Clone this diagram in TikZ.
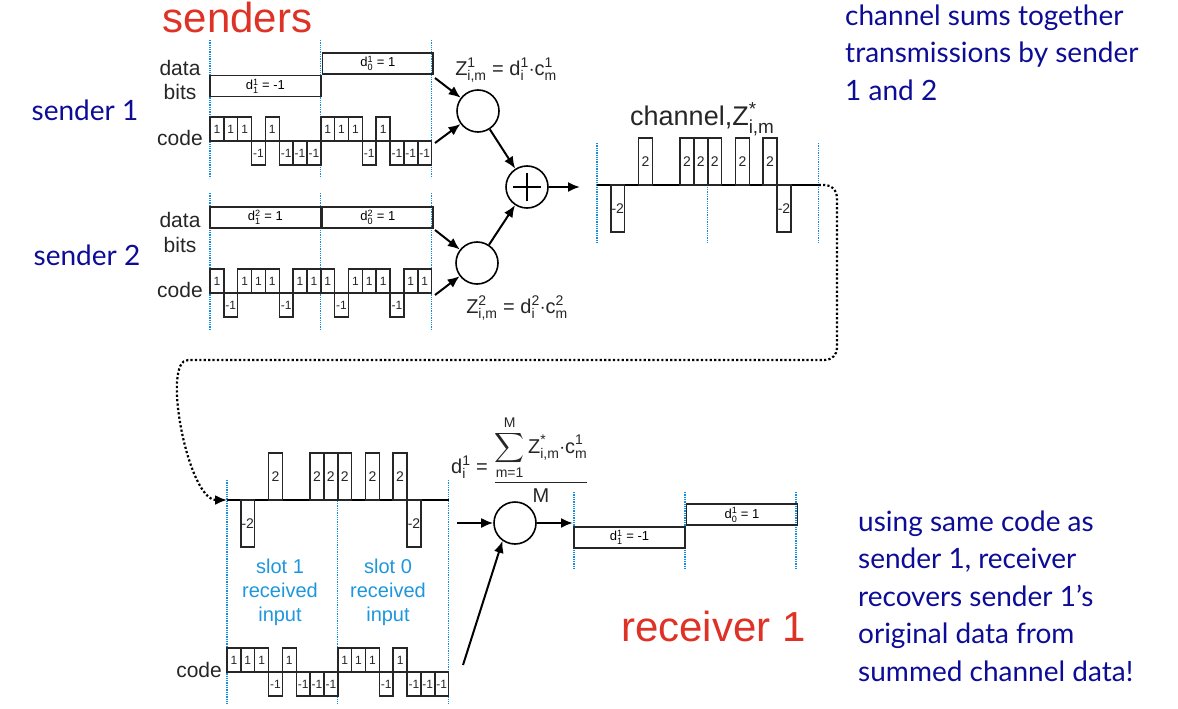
\documentclass[tikz,border=0pt]{standalone}
\usepackage{amsmath}
\usepackage{exscale}
\usepackage{fontspec}
\setmainfont{Liberation Sans}
\newfontfamily\notefont{Lato}
\usetikzlibrary{arrows.meta}
\usetikzlibrary{positioning}
\definecolor{titlered}{RGB}{222,50,38}
\definecolor{notenavy}{RGB}{12,12,150}
\definecolor{slotblue}{RGB}{30,150,220}
\definecolor{dotblue}{RGB}{20,140,225}
\tikzset{chip/.style = {draw=black!85, line width=1.5pt},
  chiplabel/.style = {inner sep=0, text=black!85},
  databox/.style = {draw=black!85, line width=1.7pt, minimum width=110.8pt, minimum height=21pt,
    inner sep=0, font=\fontsize{13}{13}\selectfont},
  slot/.style = {draw=dotblue, line width=1.3pt, densely dotted},
  rowname/.style = {inner sep=0, text=black!85, font=\fontsize{21}{21}\selectfont},
  mult/.style = {draw, circle, line width=1.6pt, minimum size=42pt, inner sep=0},
  arr/.style = {-{Latex[length=12pt,width=10pt]}, line width=2pt},
  link/.style = {line width=2.2pt, dash pattern=on 2.2pt off 2.2pt},
  redtitle/.style = {inner sep=0, text=titlered, font=\fontsize{42}{42}\selectfont},
  note/.style = {inner sep=0, text=notenavy, align=left, font=\notefont\fontsize{28}{37.5}\selectfont},
  slotnote/.style = {inner sep=0, text=slotblue, align=center, font=\fontsize{20}{24}\selectfont},
  formula/.style = {inner sep=0, text=black!85, font=\fontsize{20}{20}\selectfont}}
\newcommand{\chipw}{13.85}
% stacked super- and subscript
\newcommand{\ix}[2]{$^{\text{#1}}_{\text{#2}}$}
% chip waveform: name, x0, base, amplitude, font size, values
\newcommand{\wave}[6]{%
  \foreach \val [count=\cnt from 0] in {#6} {
    \ifnum\val=0\relax\else
      \draw[chip] ({#2+\cnt*\chipw},#3) rectangle ({#2+(\cnt+1)*\chipw},{#3-\val*#4});
      \node[chiplabel, font={\fontsize{#5}{#5}\selectfont}] (#1\cnt)
        at ({#2+(\cnt+0.5)*\chipw},{#3-\val*#4/2}) {\val};
    \fi
  }}

\begin{document}
\begin{tikzpicture}[x=1pt, y=-1pt]
  \useasboundingbox (0,0) rectangle (1178,709);
  % slot boundaries
  \foreach \x in {210, 320.8, 431.6} {
    \draw[slot] (\x,40) -- (\x,178);
    \draw[slot] (\x,193) -- (\x,330);
  }
  \foreach \x in {597, 707.8, 818.6} \draw[slot] (\x,143) -- (\x,243);
  \foreach \x in {227, 337.8, 448.6} \draw[slot] (\x,480) -- (\x,705);
  \foreach \x in {574, 685, 796} \draw[slot] (\x,492) -- (\x,570);

  % titles and notes
  \node[redtitle, anchor=base] (senders) at (237.5,33) {senders};
  \node[redtitle, anchor=base] (receiver) at (713.5,641) {receiver 1};
  \node[note, anchor=base] (snd1) at (85,120) {sender 1};
  \node[note, anchor=base] (snd2) at (87,265) {sender 2};
  \node[note, anchor=base west] (chnote) at (845,100)
    {channel sums together\\transmissions by sender\\1 and 2};
  \node[note, anchor=base west] (rxnote) at (858,681)
    {using same code as\\sender 1, receiver\\recovers sender 1’s\\original data from\\summed channel data!};

  % sender 1
  \node[rowname] (s1data) at (180,68) {data};
  \node[rowname] (s1bits) at (180,92) {bits};
  \node[rowname] (s1code) at (180,138) {code};
  \node[databox] (s1d1) at (265.4,86) {d\ix{1}{1} = -1};
  \node[databox, above right=0pt of s1d1.north east] (s1d0) {d\ix{1}{0} = 1};
  \wave{s1c}{210}{141}{24}{12}{1,1,1,-1,1,-1,-1,-1,1,1,1,-1,1,-1,-1,-1}

  % sender 2
  \node[rowname] (s2data) at (180,220) {data};
  \node[rowname] (s2bits) at (180,245) {bits};
  \node[rowname] (s2code) at (180,290) {code};
  \node[databox] (s2d1) at (265.4,217.5) {d\ix{2}{1} = 1};
  \node[databox, right=0pt of s2d1.east] (s2d0) {d\ix{2}{0} = 1};
  \wave{s2c}{210}{293}{24}{12}{1,-1,1,1,1,-1,1,1,1,-1,1,1,1,-1,1,1}

  % multiply and sum
  \node[mult] (m1) at (478,111) {};
  \node[mult] (m2) at (477,263) {};
  \node[mult] (plus) at (527,187) {};
  \draw[line width=2.4pt] ([xshift=-14pt]plus.center) -- ([xshift=14pt]plus.center)
    ([yshift=-14pt]plus.center) -- ([yshift=14pt]plus.center);
  \node[formula, anchor=base] (z1) at (506,75) {Z\ix{1}{i,m} = d\ix{1}{i}$\cdot$c\ix{1}{m}};
  \node[formula, anchor=base] (z2) at (517,313) {Z\ix{2}{i,m} = d\ix{2}{i}$\cdot$c\ix{2}{m}};
  \coordinate (a1) at (435,78);
  \coordinate (a2) at (435,143);
  \coordinate (b1) at (435,230);
  \coordinate (b2) at (435,295);
  \coordinate (chfeed) at (580,187);
  \draw[arr] (a1) -- (m1);
  \draw[arr] (a2) -- (m1);
  \draw[arr] (b1) -- (m2);
  \draw[arr] (b2) -- (m2);
  \draw[arr] (m1) -- (plus);
  \draw[arr] (m2) -- (plus);
  \draw[arr] (plus) -- (chfeed);

  % channel
  \coordinate (chin) at (597,185);
  \coordinate (chout) at (818.6,185);
  \node[formula, anchor=base west, font=\fontsize{27}{27}\selectfont] (chname) at (630,125)
    {channel,Z\ix{*}{i,m}};
  \draw[line width=1.6pt] (chin) -- (chout);
  \wave{ch}{597}{185}{23.5}{14}{0,-2,0,2,0,0,2,2,2,0,2,0,2,-2,0,0}

  % channel to receiver
  \coordinate (rxin) at (227,500);
  \draw[link, -{Latex[length=12pt,width=10pt]}, rounded corners=12pt] (chout) -- (837,185)
    -- (837,360) -- (200,360) to[out=180, in=180, looseness=0.7] (rxin);

  % receiver
  \draw[line width=1.6pt] (rxin) -- (448.6,500);
  \wave{rx}{227}{500}{23.5}{14}{0,-2,0,2,0,0,2,2,2,0,2,0,2,-2,0,0}
  \node[slotnote] (slot1) at (280,592) {slot 1\\received\\input};
  \node[slotnote] (slot0) at (388,592) {slot 0\\received\\input};
  \node[rowname, anchor=east] (rxcode) at (222,670) {code};
  \wave{rc}{227}{672}{24}{12}{1,1,1,-1,1,-1,-1,-1,1,1,1,-1,1,-1,-1,-1}
  \node[mult] (mr) at (515,523) {};
  \node[formula, anchor=base east] (dlhs) at (488,473) {d\ix{1}{i} =};
  \node[formula, anchor=base] (dfrac) at (541,488)
    {$\dfrac{\displaystyle\sum_{\text{m=1}}^{\text{M}}\text{Z\ix{*}{i,m}$\cdot$c\ix{1}{m}}}{\text{M}}$};
  \coordinate (rxa) at (457,523);
  \coordinate (rxc) at (463,665);
  \coordinate (rxout) at (573,523);
  \draw[arr] (rxa) -- (mr);
  \draw[arr] (rxc) -- (mr.235);
  \draw[arr] (mr) -- (rxout);
  \node[databox] (r1d1) at (629.5,537.5) {d\ix{1}{1} = -1};
  \node[databox, above right=0pt of r1d1.north east] (r1d0) {d\ix{1}{0} = 1};
\end{tikzpicture}
\end{document}
